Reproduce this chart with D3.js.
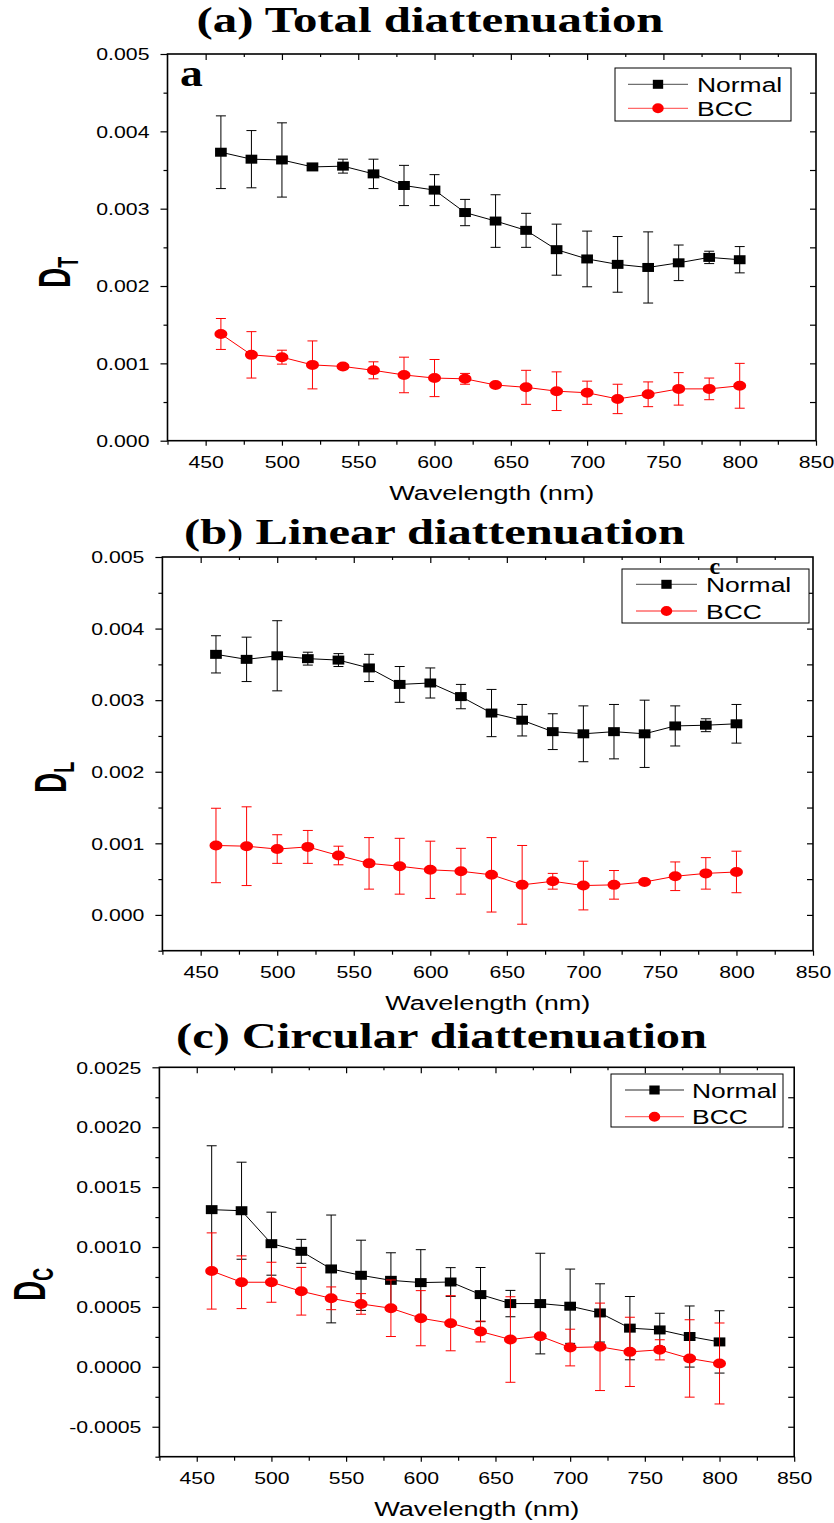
<!DOCTYPE html>
<html>
<head>
<meta charset="utf-8">
<script src="https://cdn.jsdelivr.net/npm/d3@7"></script>
<style>
  body { margin: 0; background: #fff; }
  svg { display: block; }
</style>
</head>
<body>
<div id="chart"></div>
<script>
// ---- data ----
var wavelength = [460, 480, 500, 520, 540, 560, 580, 600, 620, 640, 660, 680, 700, 720, 740, 760, 780, 800];

var totalNormal    = [0.00373, 0.00364, 0.00363, 0.00354, 0.00355, 0.00345, 0.00330, 0.00324, 0.00295, 0.00284, 0.00272, 0.00247, 0.00235, 0.00228, 0.00224, 0.00230, 0.00237, 0.00234];
var totalNormalErr = [0.00047, 0.00037, 0.00048, 0.00002, 0.00009, 0.00019, 0.00026, 0.00020, 0.00017, 0.00034, 0.00022, 0.00033, 0.00036, 0.00036, 0.00046, 0.00023, 0.00008, 0.00017];
var totalBCC       = [0.00138, 0.00111, 0.00108, 0.00098, 0.00096, 0.00091, 0.00085, 0.00081, 0.00080, 0.00072, 0.00069, 0.00064, 0.00062, 0.00054, 0.00060, 0.00067, 0.00067, 0.00071];
var totalBCCErr    = [0.00020, 0.00030, 0.00009, 0.00031, 0.00002, 0.00011, 0.00023, 0.00024, 0.00007, 0.00002, 0.00022, 0.00025, 0.00015, 0.00019, 0.00016, 0.00021, 0.00014, 0.00029];

var linearNormal    = [0.00364, 0.00357, 0.00362, 0.00358, 0.00356, 0.00345, 0.00322, 0.00324, 0.00305, 0.00282, 0.00272, 0.00256, 0.00253, 0.00256, 0.00253, 0.00264, 0.00265, 0.00267];
var linearNormalErr = [0.00026, 0.00031, 0.00049, 0.00009, 0.00009, 0.00019, 0.00025, 0.00021, 0.00017, 0.00033, 0.00022, 0.00025, 0.00039, 0.00038, 0.00047, 0.00028, 0.00009, 0.00027];
var linearBCC       = [0.00097, 0.00096, 0.00092, 0.00095, 0.00083, 0.00072, 0.00068, 0.00063, 0.00061, 0.00056, 0.00042, 0.00047, 0.00041, 0.00042, 0.00046, 0.00054, 0.00058, 0.00060];
var linearBCCErr    = [0.00052, 0.00055, 0.00020, 0.00023, 0.00013, 0.00036, 0.00039, 0.00040, 0.00032, 0.00052, 0.00055, 0.00011, 0.00034, 0.00020, 0.00002, 0.00020, 0.00022, 0.00029];

var circularNormal    = [0.001312, 0.001303, 0.001028, 0.000964, 0.000817, 0.000764, 0.000722, 0.000703, 0.000708, 0.000603, 0.000528, 0.000528, 0.000506, 0.000450, 0.000323, 0.000308, 0.000253, 0.000208];
var circularNormalErr = [0.000533, 0.000405, 0.000263, 0.000100, 0.000450, 0.000293, 0.000230, 0.000275, 0.000120, 0.000226, 0.000110, 0.000420, 0.000310, 0.000243, 0.000264, 0.000139, 0.000255, 0.000260];
var circularBCC       = [0.000800, 0.000706, 0.000706, 0.000631, 0.000572, 0.000525, 0.000489, 0.000406, 0.000364, 0.000295, 0.000228, 0.000256, 0.000161, 0.000167, 0.000125, 0.000142, 0.000070, 0.000028];
var circularBCCErr    = [0.000318, 0.000220, 0.000167, 0.000199, 0.000095, 0.000086, 0.000236, 0.000230, 0.000230, 0.000087, 0.000357, 0.000020, 0.000153, 0.000365, 0.000289, 0.000084, 0.000323, 0.000338];

var seriesNames = ["Normal", "BCC"];
var panelTitles = ["(a) Total diattenuation", "(b) Linear diattenuation", "(c) Circular diattenuation"];
var panelLetters = ["a", "c", ""];
var yLabelSubs = ["T", "L", "C"];
var xLabel = "Wavelength (nm)";

var xDomain = [425, 850];
var xMajor = [450, 500, 550, 600, 650, 700, 750, 800, 850];
var xMinor = [425, 475, 525, 575, 625, 675, 725, 775, 825];

var yMajorAB = [0, 0.001, 0.002, 0.003, 0.004, 0.005];
var yMinorA  = [0.0005, 0.0015, 0.0025, 0.0035, 0.0045];
var yMinorB  = [-0.0005, 0.0005, 0.0015, 0.0025, 0.0035, 0.0045];
var yMajorC  = [-0.0005, 0, 0.0005, 0.001, 0.0015, 0.002, 0.0025];
var yMinorC  = [-0.00075, -0.00025, 0.00025, 0.00075, 0.00125, 0.00175, 0.00225];

// ---- page ----
var width = 834, height = 1523;
var SX = 1.3;   // the reference is stretched sideways
var sans = "'Liberation Sans', Arial, sans-serif";
var serif = "'Liberation Serif', 'Times New Roman', serif";
var colors = ["#000000", "#ff0000"];
var legendLine = ["#707070", "#ff6a6a"];

var svg = d3.select("#chart")
  .append("svg")
  .attr("width", width)
  .attr("height", height)
  .style("background", "#fff");

var panels = [
  { idx: 0, left: 167.5, right: 816, top: 54, bottom: 440.7, yDomain: [0, 0.005],
    yMajor: yMajorAB, yMinor: yMinorA, fmt: ".3f",
    series: [[totalNormal, totalNormalErr], [totalBCC, totalBCCErr]],
    titleX: 430, titleY: 31.5, titleW: 467,
    legend: { x0: 615, y0: 68, x1: 791, y1: 121, rows: [84.3, 108.3], l0: 628, l1: 688, tx: 697 },
    letter: { x: 180, y: 86, size: 38, sx: 1.2 },
    yl: { x: 70, y: 288 } },
  { idx: 1, left: 162.4, right: 813, top: 557, bottom: 950.7, yDomain: [-0.0005, 0.005],
    yMajor: yMajorAB, yMinor: yMinorB, fmt: ".3f",
    series: [[linearNormal, linearNormalErr], [linearBCC, linearBCCErr]],
    titleX: 434.5, titleY: 543.5, titleW: 501,
    legend: { x0: 622, y0: 569, x1: 809, y1: 623, rows: [584.3, 611], l0: 636, l1: 697, tx: 706 },
    letter: { x: 709.5, y: 574, size: 24, sx: 1.0 },
    yl: { x: 66, y: 793 } },
  { idx: 2, left: 159.4, right: 794.2, top: 1067.3, bottom: 1456.7, yDomain: [-0.00075, 0.0025],
    yMajor: yMajorC, yMinor: yMinorC, fmt: ".4f",
    series: [[circularNormal, circularNormalErr], [circularBCC, circularBCCErr]],
    titleX: 441.5, titleY: 1047.5, titleW: 531,
    legend: { x0: 611, y0: 1074, x1: 783, y1: 1127, rows: [1090, 1116.7], l0: 625, l1: 684, tx: 692 },
    letter: null,
    yl: { x: 45, y: 1301 } }
];

function marker(sel, k) {
  if (k === 0) {
    sel.attr("d", d3.symbol(d3.symbolSquare, 81)());
  } else {
    sel.attr("d", d3.symbol(d3.symbolCircle, 78.5)());
  }
}

function drawPanel(p) {
  var g = svg.append("g").attr("class", "panel");
  var x = d3.scaleLinear().domain(xDomain).range([p.left, p.right]);
  var y = d3.scaleLinear().domain(p.yDomain).range([p.bottom, p.top]);
  var fmt = d3.format(p.fmt);

  // title
  g.append("text")
    .attr("x", p.titleX).attr("y", p.titleY)
    .attr("text-anchor", "middle")
    .attr("font-family", serif).attr("font-weight", "bold").attr("font-size", 35)
    .attr("textLength", p.titleW).attr("lengthAdjust", "spacingAndGlyphs")
    .text(panelTitles[p.idx]);

  // bottom axis
  g.append("g").attr("transform", "translate(0," + p.bottom + ")")
    .call(d3.axisBottom(x).tickValues(xMajor).tickSize(5).tickFormat(d3.format("d")))
    .call(function(a) {
      a.select(".domain").remove();
      a.selectAll("text").attr("y", 27).attr("dy", 0)
        .attr("font-family", sans).attr("font-size", 16).attr("fill", "#000")
        .attr("transform", "scale(" + 1.33 + ",1)");
    });
  g.append("g").attr("transform", "translate(0," + p.bottom + ")")
    .call(d3.axisBottom(x).tickValues(xMinor).tickSize(4).tickFormat(""))
    .call(function(a) { a.select(".domain").remove(); });

  // top axis, ticks inward
  g.append("g").attr("transform", "translate(0," + p.top + ")")
    .call(d3.axisBottom(x).tickValues(xMajor.slice(0, -1)).tickSize(6).tickFormat(""))
    .call(function(a) { a.select(".domain").remove(); });
  g.append("g").attr("transform", "translate(0," + p.top + ")")
    .call(d3.axisBottom(x).tickValues(xMinor.slice(1)).tickSize(3).tickFormat(""))
    .call(function(a) { a.select(".domain").remove(); });

  // left axis
  g.append("g").attr("transform", "translate(" + p.left + ",0)")
    .call(d3.axisLeft(y).tickValues(p.yMajor).tickSize(7)
      .tickFormat(function(d) { return fmt(d).replace("\u2212", "-"); }))
    .call(function(a) {
      a.select(".domain").remove();
      a.selectAll("text").attr("x", -18 / 1.33).attr("dy", "0.36em")
        .attr("font-family", sans).attr("font-size", 16).attr("fill", "#000")
        .attr("transform", "scale(" + 1.33 + ",1)");
    });
  g.append("g").attr("transform", "translate(" + p.left + ",0)")
    .call(d3.axisLeft(y).tickValues(p.yMinor).tickSize(4).tickFormat(""))
    .call(function(a) { a.select(".domain").remove(); });

  // right axis, ticks inward
  g.append("g").attr("transform", "translate(" + p.right + ",0)")
    .call(d3.axisLeft(y).tickValues(p.yMajor.concat(p.yMinor).filter(function(d) {
      return d > p.yDomain[0] && d < p.yDomain[1];
    })).tickSize(6).tickFormat(""))
    .call(function(a) { a.select(".domain").remove(); });

  g.selectAll(".tick line").attr("stroke", "#000").attr("stroke-width", 1.2);

  // frame
  g.append("rect")
    .attr("x", p.left).attr("y", p.top)
    .attr("width", p.right - p.left).attr("height", p.bottom - p.top)
    .attr("fill", "none").attr("stroke", "#000").attr("stroke-width", 1.6);

  // x title
  g.append("text")
    .attr("transform", "translate(" + ((p.left + p.right) / 2) + "," + (p.bottom + 59) + ") scale(1.29,1)")
    .attr("text-anchor", "middle")
    .attr("font-family", sans).attr("font-size", 21)
    .text(xLabel);

  // y title: D with subscript, rotated
  var yl = g.append("text")
    .attr("transform", "translate(" + p.yl.x + "," + p.yl.y + ") rotate(-90) scale(1,1.6)")
    .attr("font-family", sans).attr("font-weight", "bold").attr("font-size", 28);
  yl.append("tspan").text("D");
  yl.append("tspan").attr("font-size", 18).attr("dy", 5).text(yLabelSubs[p.idx]);

  // series
  p.series.forEach(function(s, k) {
    var vals = s[0], errs = s[1];
    var sg = g.append("g").attr("class", "series-" + seriesNames[k]);

    sg.append("path")
      .datum(vals)
      .attr("fill", "none").attr("stroke", colors[k]).attr("stroke-width", 1)
      .attr("d", d3.line()
        .x(function(d, i) { return x(wavelength[i]); })
        .y(function(d) { return y(d); }));

    var eb = sg.selectAll(".err").data(vals).enter().append("g").attr("class", "err")
      .attr("stroke", colors[k]).attr("stroke-width", 1);
    eb.append("line")
      .attr("x1", function(d, i) { return x(wavelength[i]); })
      .attr("x2", function(d, i) { return x(wavelength[i]); })
      .attr("y1", function(d, i) { return y(d - errs[i]); })
      .attr("y2", function(d, i) { return y(d + errs[i]); });
    [1, -1].forEach(function(sgn) {
      eb.append("line")
        .attr("x1", function(d, i) { return x(wavelength[i]) - 5; })
        .attr("x2", function(d, i) { return x(wavelength[i]) + 5; })
        .attr("y1", function(d, i) { return y(d + sgn * errs[i]); })
        .attr("y2", function(d, i) { return y(d + sgn * errs[i]); });
    });

    sg.selectAll(".mk").data(vals).enter().append("path").attr("class", "mk")
      .call(marker, k)
      .attr("fill", colors[k])
      .attr("transform", function(d, i) {
        return "translate(" + x(wavelength[i]) + "," + y(d) + ") scale(" + SX + ",1)";
      });
  });

  // legend
  var L = p.legend;
  var lg = g.append("g").attr("class", "legend");
  lg.append("rect")
    .attr("x", L.x0).attr("y", L.y0)
    .attr("width", L.x1 - L.x0).attr("height", L.y1 - L.y0)
    .attr("fill", "#fff").attr("stroke", "#000").attr("stroke-width", 1);
  seriesNames.forEach(function(name, k) {
    var ry = L.rows[k];
    lg.append("line")
      .attr("x1", L.l0).attr("x2", L.l1).attr("y1", ry).attr("y2", ry)
      .attr("stroke", legendLine[k]).attr("stroke-width", 1.3);
    lg.append("path").call(marker, k)
      .attr("fill", colors[k])
      .attr("transform", "translate(" + ((L.l0 + L.l1) / 2) + "," + ry + ") scale(1.15,1)");
    lg.append("text")
      .attr("transform", "translate(" + L.tx + "," + (ry + 7.5) + ") scale(1.26,1)")
      .attr("font-family", sans).attr("font-size", 21)
      .text(name);
  });

  // panel letter
  if (p.letter) {
    g.append("text")
      .attr("transform", "translate(" + p.letter.x + "," + p.letter.y + ") scale(" + p.letter.sx + ",1)")
      .attr("font-family", serif).attr("font-weight", "bold").attr("font-size", p.letter.size)
      .text(panelLetters[p.idx]);
  }
}

panels.forEach(drawPanel);
</script>
</body>
</html>
